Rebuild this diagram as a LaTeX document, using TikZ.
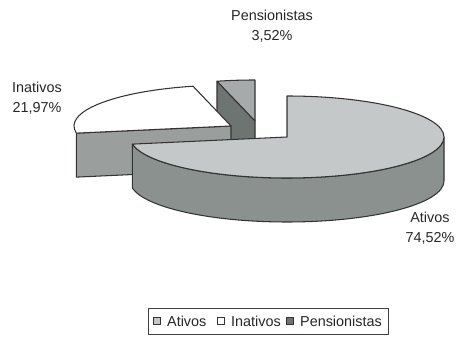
\documentclass[tikz,border=0pt]{standalone}
\usepackage{fontspec}
\setmainfont{Liberation Sans}
\usepackage{tikz}
\usepackage{xcolor}
\usetikzlibrary{calc}

\definecolor{ativtop}{HTML}{C4C8C9}
\definecolor{ativside}{HTML}{8A918E}
\definecolor{inatside}{HTML}{9A9E9C}
\definecolor{penstop}{HTML}{A7AAAA}
\definecolor{penswall}{HTML}{6E7472}

\begin{document}
\begin{tikzpicture}[x=0.02cm, y=0.02cm, line join=round,
    slice/.style={draw=black!80, line width=0.6pt},
    lbl/.style={font=\fontsize{8.2}{11.3}\selectfont, text=black!85, align=center},
    key/.style={draw=black!80, line width=0.5pt, minimum size=4pt, inner sep=0pt}]
            \useasboundingbox (0,0) rectangle (457,338);

            % Apex of each slice
            \coordinate (A) at (287,201);
            \coordinate (I) at (231,212);
            \coordinate (P) at (255,217);

            % Pensionistas slice (back)
            \filldraw[slice, fill=penswall] (P) -- ++(104:157 and 41) -- ++(0,-44) -- ($(P)+(0,-44)$) -- cycle;
            \filldraw[slice, fill=penstop] (P) -- ++(90:157 and 41)
                arc[start angle=90, end angle=104, x radius=157, y radius=41] -- cycle;

            % Inativos slice
            \filldraw[slice, fill=inatside] (I) -- ++(190:157 and 41) -- ++(0,-44) -- ($(I)+(0,-44)$) -- cycle;
            \filldraw[slice, fill=white] (I) -- ++(104:157 and 41)
                arc[start angle=104, end angle=190, x radius=157, y radius=41] -- cycle;

            % Ativos slice (front)
            \filldraw[slice, fill=ativside] ($(A)+(190:157 and 41)$)
                arc[start angle=190, end angle=360, x radius=157, y radius=41] -- ++(0,-44)
                arc[start angle=360, end angle=190, x radius=157, y radius=41] -- cycle;
            \filldraw[slice, fill=ativtop] (A) -- ++(90:157 and 41)
                arc[start angle=90, end angle=-170, x radius=157, y radius=41] -- cycle;

            % Labels
            \node[lbl] (pens) at (272,312) {Pensionistas\\3,52\%};
            \node[lbl] (inat) at (37,240) {Inativos\\21,97\%};
            \node[lbl] (ativ) at (430,110) {Ativos\\74,52\%};

            % Legend
            \node[draw=black!75, line width=0.5pt, minimum width=4.8cm, minimum height=0.52cm]
                (legend) at (268,17) {};
            \node[key, fill=ativtop] (kativ) at (157,17) {};
            \node[lbl, anchor=west] (tativ) at (kativ.east) {Ativos};
            \node[key, fill=white] (kinat) at (221,17) {};
            \node[lbl, anchor=west] (tinat) at (kinat.east) {Inativos};
            \node[key, fill=penswall] (kpens) at (290,17) {};
            \node[lbl, anchor=west] (tpens) at (kpens.east) {Pensionistas};
        \end{tikzpicture}
\end{document}
